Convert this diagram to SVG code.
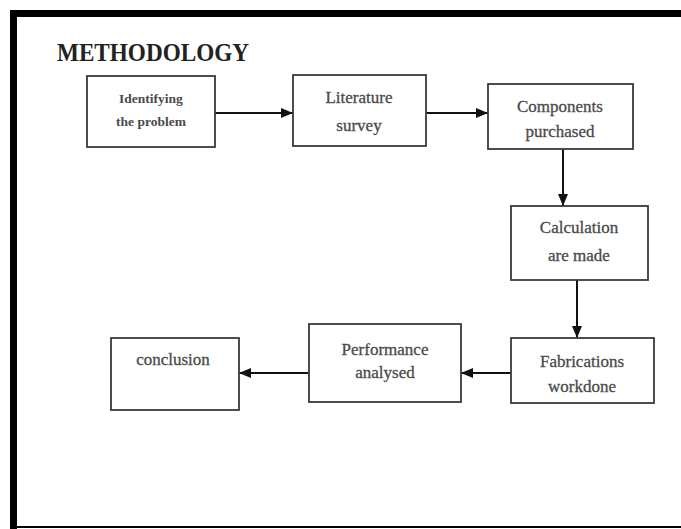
<svg xmlns="http://www.w3.org/2000/svg" width="681" height="529" viewBox="0 0 681 529">
<style>
.box{fill:#fff;stroke:#3a3a3a;stroke-width:1.8}
.t{font-family:"Liberation Serif","DejaVu Serif",serif;font-size:17px;fill:#4a4a4a;text-anchor:middle;stroke:#4a4a4a;stroke-width:0.3}
.s{font-size:13.5px;font-weight:bold;stroke:none}
.c{stroke:#111;stroke-width:2;fill:none;marker-end:url(#ah)}
</style>
<defs>
<marker id="ah" viewBox="0 0 12 10" refX="12" refY="5" markerWidth="12" markerHeight="10" orient="auto" markerUnits="userSpaceOnUse">
<path d="M0,0 L12,5 L0,10 z" fill="#111"/>
</marker>
</defs>
<rect width="681" height="529" fill="#fff"/>
<g id="frame">
<rect x="10" y="10" width="671" height="7" fill="#000"/>
<rect x="10" y="10" width="7" height="519" fill="#000"/>
<rect x="10" y="526" width="671" height="2" fill="#000"/>
</g>
<text x="57" y="61" font-family="Liberation Serif,serif" font-weight="bold" font-size="25" fill="#222" textLength="192" lengthAdjust="spacingAndGlyphs">METHODOLOGY</text>
<g id="connectors">
<line class="c" x1="215" y1="113" x2="293" y2="113"/>
<line class="c" x1="426" y1="113" x2="488" y2="113"/>
<line class="c" x1="563" y1="149" x2="563" y2="206"/>
<line class="c" x1="577" y1="280" x2="577" y2="338"/>
<line class="c" x1="511" y1="373" x2="461" y2="373"/>
<line class="c" x1="309" y1="373" x2="239" y2="373"/>
</g>
<g id="n1"><rect class="box" x="87" y="76" width="128" height="71"/>
<text class="t s" x="151" y="103">Identifying</text><text class="t s" x="151" y="126">the problem</text></g>
<g id="n2"><rect class="box" x="293" y="75" width="133" height="71"/>
<text class="t" x="359" y="103">Literature</text><text class="t" x="359" y="131">survey</text></g>
<g id="n3"><rect class="box" x="488" y="84" width="145" height="65"/>
<text class="t" x="560" y="112">Components</text><text class="t" x="560" y="137">purchased</text></g>
<g id="n4"><rect class="box" x="511" y="206" width="137" height="74"/>
<text class="t" x="579" y="233">Calculation</text><text class="t" x="579" y="261">are made</text></g>
<g id="n5"><rect class="box" x="511" y="338" width="143" height="65"/>
<text class="t" x="582" y="367">Fabrications</text><text class="t" x="582" y="392">workdone</text></g>
<g id="n6"><rect class="box" x="309" y="324" width="152" height="78"/>
<text class="t" x="385" y="355">Performance</text><text class="t" x="385" y="378">analysed</text></g>
<g id="n7"><rect class="box" x="111" y="338" width="128" height="72"/>
<text class="t" x="173" y="365">conclusion</text></g>
</svg>
